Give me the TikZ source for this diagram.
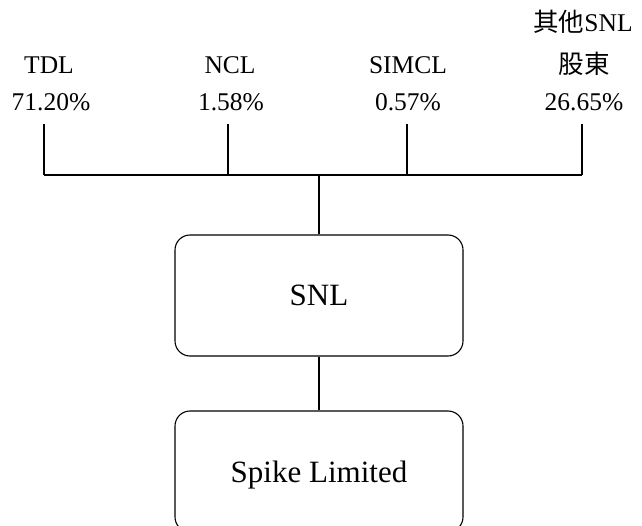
\documentclass[tikz,border=0pt]{standalone}
\usepackage{fontspec}
\setmainfont{Liberation Serif}
\newfontfamily\cjk{Noto Sans CJK TC}
\begin{document}
\begin{tikzpicture}[x=1pt,y=-1pt,
  lbl/.style={font=\fontsize{25.5}{30}\selectfont, anchor=base, inner sep=0pt},
  box/.style={draw, rounded corners=15pt, minimum width=288pt, minimum height=121pt,
    line width=1.1pt, inner sep=0pt, text depth=0pt, font=\fontsize{31}{36}\selectfont},
  conn/.style={line width=1.1pt}]
\useasboundingbox (0,0) rectangle (642,526);
\clip (0,0) rectangle (642,526);
% labels
\node[lbl] (n1) at (49,74) {TDL};
\node[lbl] (p1) at (51,111) {71.20\%};
\node[lbl] (n2) at (230,74) {NCL};
\node[lbl] (p2) at (231,111) {1.58\%};
\node[lbl] (n3) at (408,74) {SIMCL};
\node[lbl] (p3) at (408,111) {0.57\%};
\node[lbl] (n4a) at (583,32) {{\cjk 其他}SNL};
\node[lbl] (n4) at (584,74) {{\cjk 股東}};
\node[lbl] (p4) at (584,111) {26.65\%};
% boxes
\node[box] (snl) at (319,295.5) {SNL};
\node[box] (spike) at (319,471.5) {Spike Limited};
% connector points
\coordinate (c1) at (44,124);
\coordinate (c2) at (228,124);
\coordinate (c3) at (407,124);
\coordinate (c4) at (582,124);
\coordinate (j1) at (44,175);
\coordinate (j2) at (228,175);
\coordinate (j3) at (407,175);
\coordinate (j4) at (582,175);
\coordinate (j0) at (snl.north |- j1);
\draw[conn] (c1) -- (j1);
\draw[conn] (c2) -- (j2);
\draw[conn] (c3) -- (j3);
\draw[conn] (c4) -- (j4);
\draw[conn] (j1) -- (j4);
\draw[conn] (j0) -- (snl.north);
\draw[conn] (snl.south) -- (spike.north);
\end{tikzpicture}
\end{document}
